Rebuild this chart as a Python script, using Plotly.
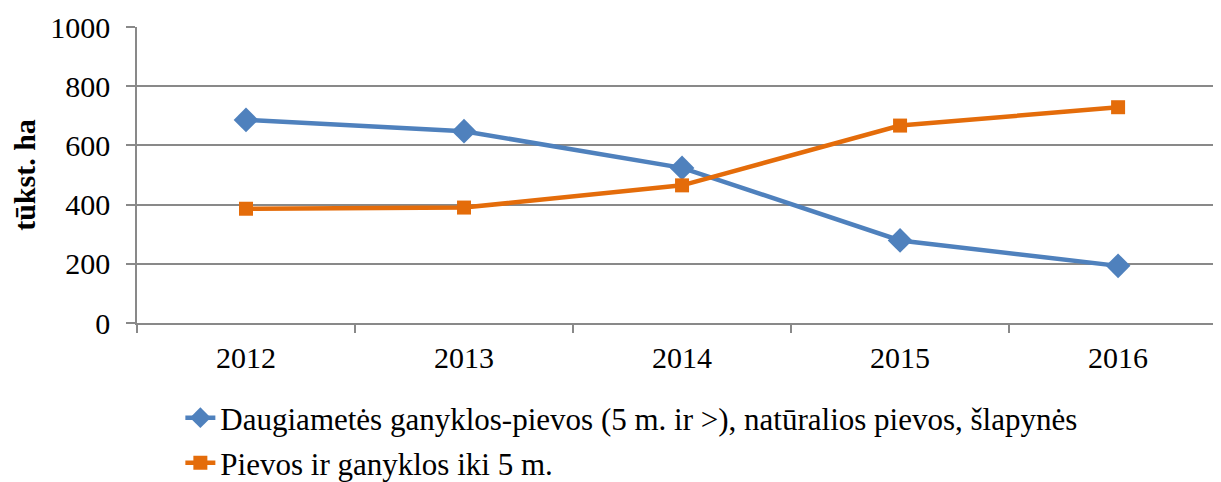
import plotly.graph_objects as go

years = ["2012", "2013", "2014", "2015", "2016"]
series1_name = "Daugiametės ganyklos-pievos (5 m. ir >), natūralios pievos, šlapynės"
series1 = [686, 648, 524, 279, 193]
series2_name = "Pievos ir ganyklos iki 5 m."
series2 = [386, 390, 465, 667, 729]
y_ticks = [0, 200, 400, 600, 800, 1000]

FONT = "Liberation Serif"
FS = 30
LFS = 31
BLUE = "#4F81BD"
ORANGE = "#E46C0A"
GRID = "#898989"

fig = go.Figure()
fig.add_trace(go.Scatter(
    x=years, y=series1, name=series1_name, mode="lines+markers",
    line=dict(color=BLUE, width=4.5),
    marker=dict(symbol="diamond", size=19, color=BLUE),
    legend="legend", showlegend=True,
))
fig.add_trace(go.Scatter(
    x=years, y=series2, name=series2_name, mode="lines+markers",
    line=dict(color=ORANGE, width=4.5),
    marker=dict(symbol="square", size=14, color=ORANGE),
    legend="legend2", showlegend=True,
))

fig.update_layout(
    width=1213, height=474,
    margin=dict(l=129, r=0, t=19, b=159, autoexpand=False),
    paper_bgcolor="white", plot_bgcolor="white",
    font=dict(family=FONT, size=FS, color="black"),
    showlegend=True,
    legend=dict(x=0.04, y=0.135, xref="paper", yref="container",
                xanchor="left", yanchor="middle",
                font=dict(family=FONT, size=LFS, color="black"),
                bgcolor="rgba(0,0,0,0)", borderwidth=0),
    legend2=dict(x=0.04, y=0.040, xref="paper", yref="container",
                 xanchor="left", yanchor="middle",
                 font=dict(family=FONT, size=LFS, color="black"),
                 bgcolor="rgba(0,0,0,0)", borderwidth=0),
    xaxis=dict(
        type="category", range=[-0.5, 4.472],
        showgrid=False, showline=True, linecolor=GRID, linewidth=1.5,
        ticks="outside", tickson="boundaries", ticklen=8, tickcolor=GRID,
        tickwidth=1.5, tickfont=dict(family=FONT, size=FS), zeroline=False,
        ticklabelstandoff=7,
    ),
    yaxis=dict(
        range=[0, 1000], tickvals=y_ticks, ticktext=[str(v) for v in y_ticks],
        showgrid=True, gridcolor=GRID, gridwidth=1.5,
        showline=True, linecolor=GRID, linewidth=1.5,
        ticks="outside", ticklen=9, tickcolor=GRID, tickwidth=1.5,
        tickfont=dict(family=FONT, size=FS), zeroline=False,
        ticklabelstandoff=10,
        title=dict(text="<b>tūkst. ha</b>", font=dict(family=FONT, size=FS), standoff=12),
    ),
)

fig.write_html("out.html")
